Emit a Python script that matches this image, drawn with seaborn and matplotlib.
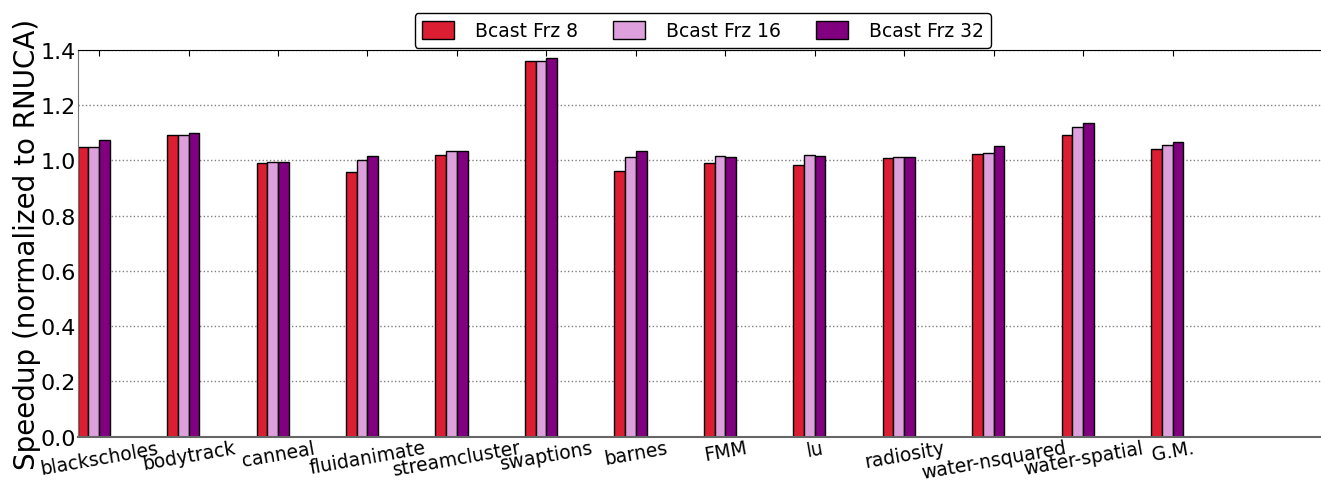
import numpy as np
import pandas as pd
import matplotlib
matplotlib.use("Agg")
import matplotlib.pyplot as plt
import seaborn as sns

# ---------------------------------------------------------
# Data (speedup normalized to RNUCA)
# ---------------------------------------------------------
benchmarks = ["blackscholes", "bodytrack", "canneal", "fluidanimate", "streamcluster",
              "swaptions", "barnes", "FMM", "lu", "radiosity",
              "water-nsquared", "water-spatial", "G.M."]
configs = ["Bcast Frz 8", "Bcast Frz 16", "Bcast Frz 32"]

frz8 = [1.048, 1.091, 0.990, 0.957, 1.019, 1.359, 0.963, 0.992, 0.985, 1.009, 1.024, 1.092, 1.041]
frz16 = [1.050, 1.092, 0.993, 1.001, 1.033, 1.361, 1.011, 1.015, 1.021, 1.011, 1.027, 1.120, 1.057]
frz32 = [1.075, 1.101, 0.996, 1.015, 1.033, 1.370, 1.035, 1.014, 1.016, 1.014, 1.054, 1.137, 1.068]

colors = ["#dc1e32", "plum", "purple"]

rows = []
for cfg, vals in zip(configs, [frz8, frz16, frz32]):
    for b, v in zip(benchmarks, vals):
        rows.append({"benchmark": b, "config": cfg, "speedup": v})
df = pd.DataFrame(rows)

# ---------------------------------------------------------
# Plot
# ---------------------------------------------------------
sns.set_style("white")
plt.rcParams["font.family"] = ["DejaVu Sans"]
plt.rcParams["text.color"] = "black"
plt.rcParams["axes.labelcolor"] = "black"
plt.rcParams["xtick.color"] = "black"
plt.rcParams["ytick.color"] = "black"

fig = plt.figure(figsize=(13.21, 4.81), dpi=100)
ax = fig.add_axes([0.0588, 0.090, 0.9412, 0.804])

bar_w = 0.36
sns.barplot(data=df, x="benchmark", y="speedup", hue="config", palette=colors,
            saturation=1, width=bar_w, edgecolor="black", linewidth=1, ax=ax)

n = len(benchmarks)
ax.set_xticks(np.arange(n) + bar_w / 6)
ax.set_xticklabels(benchmarks, rotation=10, fontsize=13.5)
ax.set_xlim(-bar_w / 2, -bar_w / 2 + 13.9)
ax.set_ylim(0, 1.4)
ax.set_yticks(np.arange(0, 1.41, 0.2))
ax.set_yticklabels([f"{t:.1f}" for t in np.arange(0, 1.41, 0.2)], fontsize=16)
ax.set_xlabel("")
ax.set_ylabel("Speedup (normalized to RNUCA)", fontsize=20, labelpad=0)

ax.yaxis.grid(True, linestyle=":", color="gray", linewidth=1)
ax.set_axisbelow(True)
ax.tick_params(axis="both", direction="in", top=True, right=False, length=4, pad=1)

ax.spines["right"].set_visible(False)
ax.spines["top"].set_color("black")
ax.spines["left"].set_color("#777777")
ax.spines["bottom"].set_color("#666666")
ax.spines["bottom"].set_linewidth(1.5)

handles, labels = ax.get_legend_handles_labels()
ax.legend(handles, labels, ncol=3, loc="upper center",
          bbox_to_anchor=(0.532, 0.99), bbox_transform=fig.transFigure,
          fontsize=13.5, fancybox=True, framealpha=1, edgecolor="black",
          handlelength=1.7, handleheight=1.1, handletextpad=1.1,
          columnspacing=1.9, borderpad=0.4)

fig.savefig("out.png", dpi=100)
